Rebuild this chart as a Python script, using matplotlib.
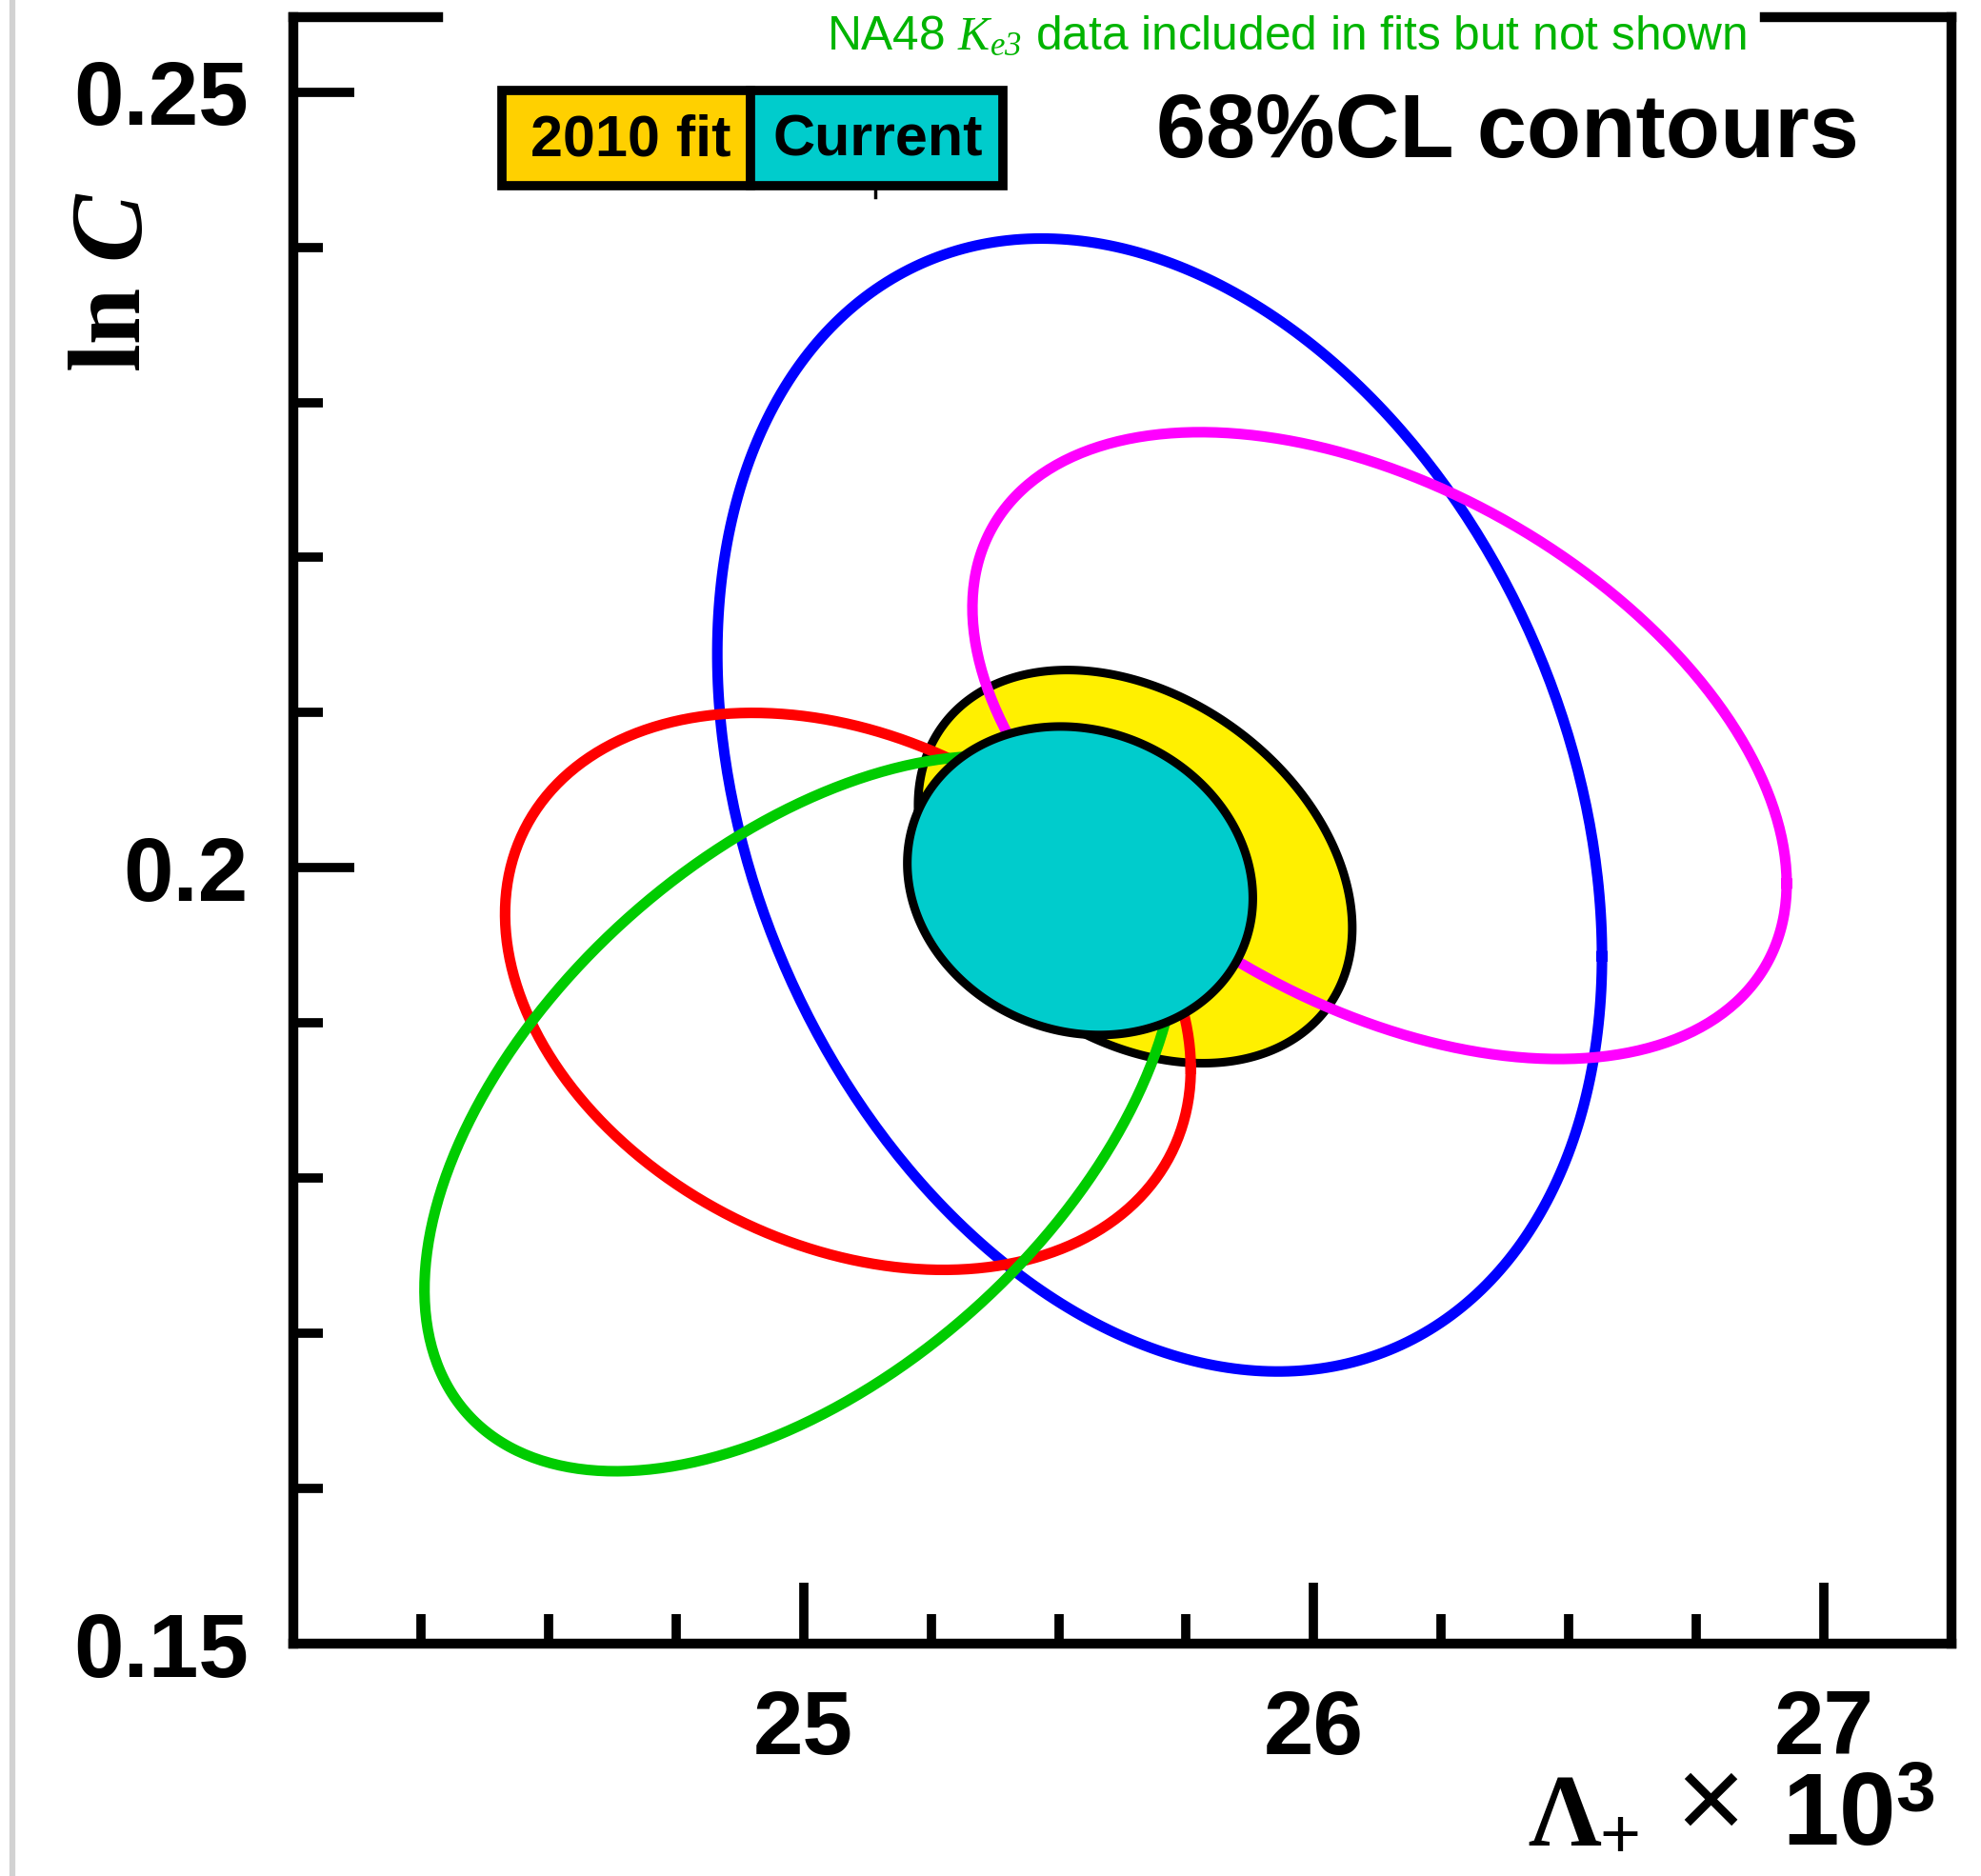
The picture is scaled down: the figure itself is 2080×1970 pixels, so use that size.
import numpy as np
import matplotlib
matplotlib.use("Agg")
import matplotlib.pyplot as plt
from matplotlib.patches import Rectangle
from matplotlib.lines import Line2D
from matplotlib.ticker import MultipleLocator

W, H = 2080, 1970

# 68% CL contours: centre, half-extent of the contour in each variable, correlation
fit_names = ['blue', 'magenta', 'red', 'green', 'yellow', 'cyan']
lam_center = [25.698, 26.129, 25.087, 24.995, 25.650, 25.542]
lnc_center = [0.20405, 0.20788, 0.19204, 0.18416, 0.20008, 0.19917]
lam_halfwidth = [0.867, 0.798, 0.672, 0.738, 0.4255, 0.3386]
lnc_halfwidth = [0.03651, 0.02020, 0.01795, 0.02305, 0.01267, 0.00994]
rho = [-0.267, -0.440, -0.278, 0.492, -0.312, -0.113]
line_colors = {'blue': '#0000FF', 'magenta': '#FF00FF', 'red': '#FF0000', 'green': '#00CC00'}

xticks = [25, 26, 27]
xticklabels = ['25', '26', '27']
yticks = [0.15, 0.2, 0.25]
yticklabels = ['0.15', '0.2', '0.25']

plt.rcParams['font.family'] = ['Liberation Sans', 'DejaVu Sans']
plt.rcParams['font.weight'] = 'bold'
plt.rcParams['mathtext.fontset'] = 'custom'
plt.rcParams['mathtext.rm'] = 'Liberation Sans:bold'
plt.rcParams['mathtext.sf'] = 'Liberation Sans:weight=normal'
plt.rcParams['mathtext.bf'] = 'Liberation Serif:bold'
plt.rcParams['mathtext.it'] = 'Liberation Serif:style=italic:weight=normal'
plt.rcParams['mathtext.cal'] = 'Liberation Serif:style=italic:weight=normal'


def px(x, y):
    # figure pixel (from top-left) -> figure fraction
    return x / W, 1 - y / H


def ellipse_xy(cx, cy, dx, dy, r, n=400):
    t = np.linspace(0, 2 * np.pi, n)
    x = cx + dx * np.cos(t)
    y = cy + dy * (r * np.cos(t) + np.sqrt(1 - r ** 2) * np.sin(t))
    return x, y


def contour(name):
    i = fit_names.index(name)
    return ellipse_xy(lam_center[i], lnc_center[i], lam_halfwidth[i], lnc_halfwidth[i], rho[i])


fig = plt.figure(figsize=(W / 100, H / 100), dpi=100)
ax = fig.add_axes([308 / W, 1 - 1726 / H, (2049 - 308) / W, (1726 - 18) / H])
ax.set_xlim(24.0, 27.25)
ax.set_ylim(0.15, 0.25483)

# 2010 fit under the lines, current fit on top
x, y = contour('yellow')
ax.fill(x, y, facecolor='#FFF000', edgecolor='black', lw=6.5, zorder=2)
for name, col in line_colors.items():
    x, y = contour(name)
    ax.plot(x, y, color=col, lw=8, zorder=3)
x, y = contour('cyan')
ax.fill(x, y, facecolor='#00CCCC', edgecolor='black', lw=6.5, zorder=4)

ax.set_xticks(xticks)
ax.set_xticklabels(xticklabels)
ax.set_yticks(yticks)
ax.set_yticklabels(yticklabels)
ax.xaxis.set_minor_locator(MultipleLocator(0.25))
ax.yaxis.set_minor_locator(MultipleLocator(0.01))
ax.tick_params(axis='both', which='both', direction='in', top=False, right=False,
               width=7, labelsize=68, pad=34)
ax.tick_params(which='major', length=46)
ax.tick_params(which='minor', length=22)
for side in ['left', 'right', 'bottom']:
    ax.spines[side].set_linewidth(7.5)
ax.spines['top'].set_visible(False)
# top frame is interrupted by the NA48 note
ax.plot([0, (460 - 308) / 1741], [1, 1], transform=ax.transAxes, color='black', lw=7.5,
        clip_on=False, solid_capstyle='projecting', zorder=5)
ax.plot([(1853 - 308) / 1741, 1], [1, 1], transform=ax.transAxes, color='black', lw=7.5,
        clip_on=False, solid_capstyle='projecting', zorder=5)

# legend boxes
fig.add_artist(Rectangle(px(527, 195), (787.5 - 527) / W, 100 / H, transform=fig.transFigure,
                         facecolor='#FFD000', edgecolor='black', lw=7, zorder=6))
fig.add_artist(Rectangle(px(787.5, 195), (1053 - 787.5) / W, 100 / H, transform=fig.transFigure,
                         facecolor='#00CCCC', edgecolor='black', lw=7, zorder=6))
fig.add_artist(Line2D([919 / W, 919 / W], [1 - 199 / H, 1 - 207 / H], color='black', lw=2.5))
fig.text(*px(662, 163), '2010 fit', fontsize=44, ha='center', va='baseline', zorder=7)
fig.text(*px(922, 163), 'Current', fontsize=44, ha='center', va='baseline', zorder=7)

fig.text(*px(1214, 165), '68%CL contours', fontsize=67.5, ha='left', va='baseline')
fig.text(*px(868, 52), r'NA48 $\mathcal{K}_{\mathcal{e3}}$ data included in fits but not shown',
         color='#00B400', fontsize=35.7, weight='normal', ha='left', va='baseline')

# axis titles
fig.text(*px(145, 388), 'ln', family='Liberation Serif', fontsize=77, rotation=90,
         rotation_mode='anchor', ha='left', va='baseline')
fig.text(*px(145, 272), 'C', family='Liberation Serif', style='italic', fontsize=77, rotation=90,
         rotation_mode='anchor', ha='left', va='baseline')
# x title sits against the lower edge; kept a little above it so nothing is clipped
fig.text(*px(1604, 1938), r'$\mathbf{\Lambda}$', fontsize=77, ha='left', va='baseline')
fig.text(*px(1700, 1930), r'$\mathsf{+}$', fontsize=53, ha='center', va='center')
fig.text(*px(1792, 1898), r'$\mathsf{\times}$', fontsize=90, ha='center', va='center')
fig.text(*px(1871, 1938), r'$\mathrm{10}^{3}$', fontsize=77, ha='left', va='baseline')

fig.add_artist(Line2D([13 / W, 13 / W], [0, 1], color='#d2d2d2', lw=4.5))

fig.savefig('out.png', dpi=100)
